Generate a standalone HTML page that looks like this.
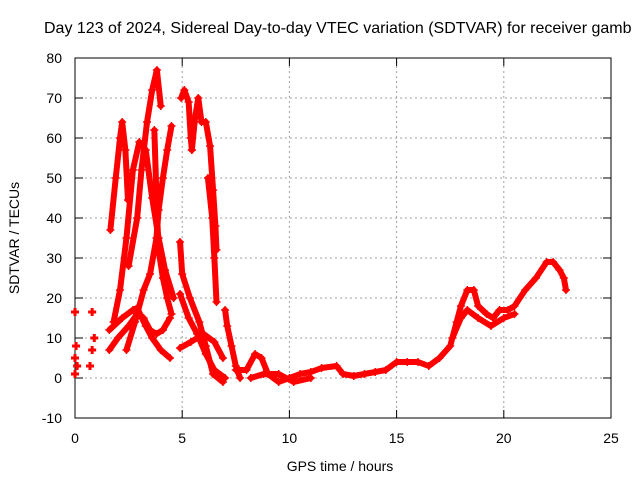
<!DOCTYPE html>
<html><head><meta charset="utf-8"><style>
body{margin:0;background:#fff}
svg{display:block;font-family:"Liberation Sans",sans-serif}
</style></head><body>
<svg id="chart" width="640" height="480">
<text x="44" y="33" font-size="16" fill="#000">Day 123 of 2024, Sidereal Day-to-day VTEC variation (SDTVAR) for receiver gamb</text>
<g id="grid"></g><g id="axes"></g><g id="data"></g>
<text x="340" y="471" font-size="14" text-anchor="middle">GPS time / hours</text>
<text x="0" y="0" font-size="14" text-anchor="middle" transform="translate(19,238) rotate(-90)">SDTVAR / TECUs</text>
</svg>
<script>
const xTicks=[0,5,10,15,20,25];
const yTicks=[-10,0,10,20,30,40,50,60,70,80];
const trackA=[[1.8,14],[2.1,22],[2.4,35],[2.7,52],[3.0,59],[3.3,57],[3.6,45],[3.9,35],[4.2,27],[4.6,20]];
const trackB=[[2.4,7],[2.8,14],[3.2,22],[3.5,26],[3.8,35],[3.9,42],[4.1,50],[4.3,57],[4.5,63]];
const trackC=[[2.5,28],[2.9,40],[3.1,52],[3.36,64],[3.6,72],[3.82,77],[4.0,68]];
const trackD=[[3.7,62],[3.82,42],[3.9,32],[4.1,25],[4.3,20],[4.5,16]];
const trackE=[[1.6,12],[2.2,15],[2.7,17],[2.9,17.5],[3.3,13],[3.6,10],[4.0,7],[4.43,5]];
const trackF=[[1.6,7],[2.0,10],[2.5,13],[2.9,16],[3.2,15],[3.5,12],[3.8,11],[4.1,12],[4.43,15]];
const trackG=[[4.9,34],[5.0,26],[5.36,20],[5.8,14],[6.1,8],[6.44,1],[6.9,-1]];
const trackH=[[4.9,7.5],[5.4,9],[6.0,11],[6.5,9],[6.9,5]];
const trackI=[[4.9,21],[5.3,15],[5.7,11],[6.1,6],[6.5,2],[7.0,0]];
const trackJ=[[1.65,37],[1.9,50],[2.1,60],[2.2,64],[2.35,57],[2.47,44.5]];
const trackK=[[4.95,70],[5.1,72],[5.3,69],[5.4,60],[5.45,57]];
const trackL=[[5.45,57],[5.6,65],[5.75,70],[5.9,64],[6.1,64],[6.3,58],[6.44,47],[6.55,38],[6.6,32]];
const trackM=[[6.2,50],[6.4,40],[6.5,30],[6.6,19]];
const trackN=[[7.0,17],[7.1,13],[7.3,8],[7.5,3],[7.7,0]];
const trackO=[[7.5,2],[8.0,2],[8.4,6],[8.7,5],[9.0,1],[9.5,-1],[10,0],[10.5,1],[11,1.5],[11.5,2.5],[12.2,3],[12.5,1],[13,0.5],[13.5,1],[14,1.5],[14.5,2],[15,4],[15.5,4],[16,4],[16.5,3],[17,5],[17.5,8],[17.8,14],[18,18],[18.3,22],[18.6,22],[18.8,18],[19.2,16],[19.5,15],[19.8,17],[20.2,17],[20.5,18],[21,22],[21.5,25],[22,29],[22.3,29],[22.6,27],[22.8,25],[22.9,22]];
const trackP=[[17.6,10],[18,15],[18.3,17],[18.8,15],[19.4,13],[20,15],[20.5,16]];
const trackQ=[[8.2,0],[8.8,1],[9.5,1],[10.2,-1],[11,0]];
const scatter=[[0,16.5],[0.8,16.5],[0,5],[0.1,3],[0,1],[0.7,3],[0.8,7],[0.9,10],[0.05,8]];
const tracks=[trackA,trackB,trackC,trackD,trackE,trackF,trackG,trackH,trackI,trackJ,trackK,trackL,trackM,trackN,trackO,trackP,trackQ];

const X0=75,X1=611,Y0=418,Y1=58,xmin=0,xmax=25,ymin=-10,ymax=80;
const sx=v=>X0+(v-xmin)/(xmax-xmin)*(X1-X0);
const sy=v=>Y0-(v-ymin)/(ymax-ymin)*(Y0-Y1);
const NS='http://www.w3.org/2000/svg';
function mk(t,a,p){const e=document.createElementNS(NS,t);for(const k in a)e.setAttribute(k,a[k]);p.appendChild(e);return e;}
const grid=document.getElementById('grid'),axes=document.getElementById('axes'),data=document.getElementById('data');
yTicks.forEach(v=>{const y=sy(v);
 if(v>ymin&&v<ymax){const g=mk('line',{x1:X0,x2:X1,y1:y,y2:y,stroke:'#a0a0a0','stroke-dasharray':'2,3','stroke-width':1},grid);
 
 }
 mk('line',{x1:X0,x2:X0+8,y1:y,y2:y,stroke:'#000'},axes);
 mk('line',{x1:X1,x2:X1-8,y1:y,y2:y,stroke:'#000'},axes);
 const t=mk('text',{x:62,y:y+5,'font-size':14,'text-anchor':'end'},axes);t.textContent=v;
 
 
});
xTicks.forEach(v=>{const x=sx(v);
 if(v>xmin&&v<xmax){const g=mk('line',{x1:x,x2:x,y1:Y0,y2:Y1,stroke:'#a0a0a0','stroke-dasharray':'2,3','stroke-width':1},grid);
 
 }
 mk('line',{x1:x,x2:x,y1:Y0,y2:Y0-8,stroke:'#000'},axes);
 mk('line',{x1:x,x2:x,y1:Y1,y2:Y1+8,stroke:'#000'},axes);
 const t=mk('text',{x:x,y:443,'font-size':14,'text-anchor':'middle'},axes);t.textContent=v;
 
 
});
const fr=mk('rect',{x:X0,y:Y1,width:X1-X0,height:Y0-Y1,fill:'none',stroke:'#000','stroke-width':1},axes);


function plus(x,y,w){const p=mk('path',{d:`M${x-4} ${y}h8M${x} ${y-4}v8`,stroke:'#f00','stroke-width':w||1.5},data);
 
 }
tracks.forEach(tr=>{
 const pl=mk('polyline',{points:tr.map(p=>sx(p[0])+','+sy(p[1])).join(' '),fill:'none',stroke:'#f00','stroke-width':6,'stroke-linejoin':'round','stroke-linecap':'round'},data);
 
 
 tr.forEach(p=>plus(sx(p[0]),sy(p[1])));
});
scatter.forEach(p=>plus(sx(p[0]),sy(p[1]),3));
</script>
</body></html>
